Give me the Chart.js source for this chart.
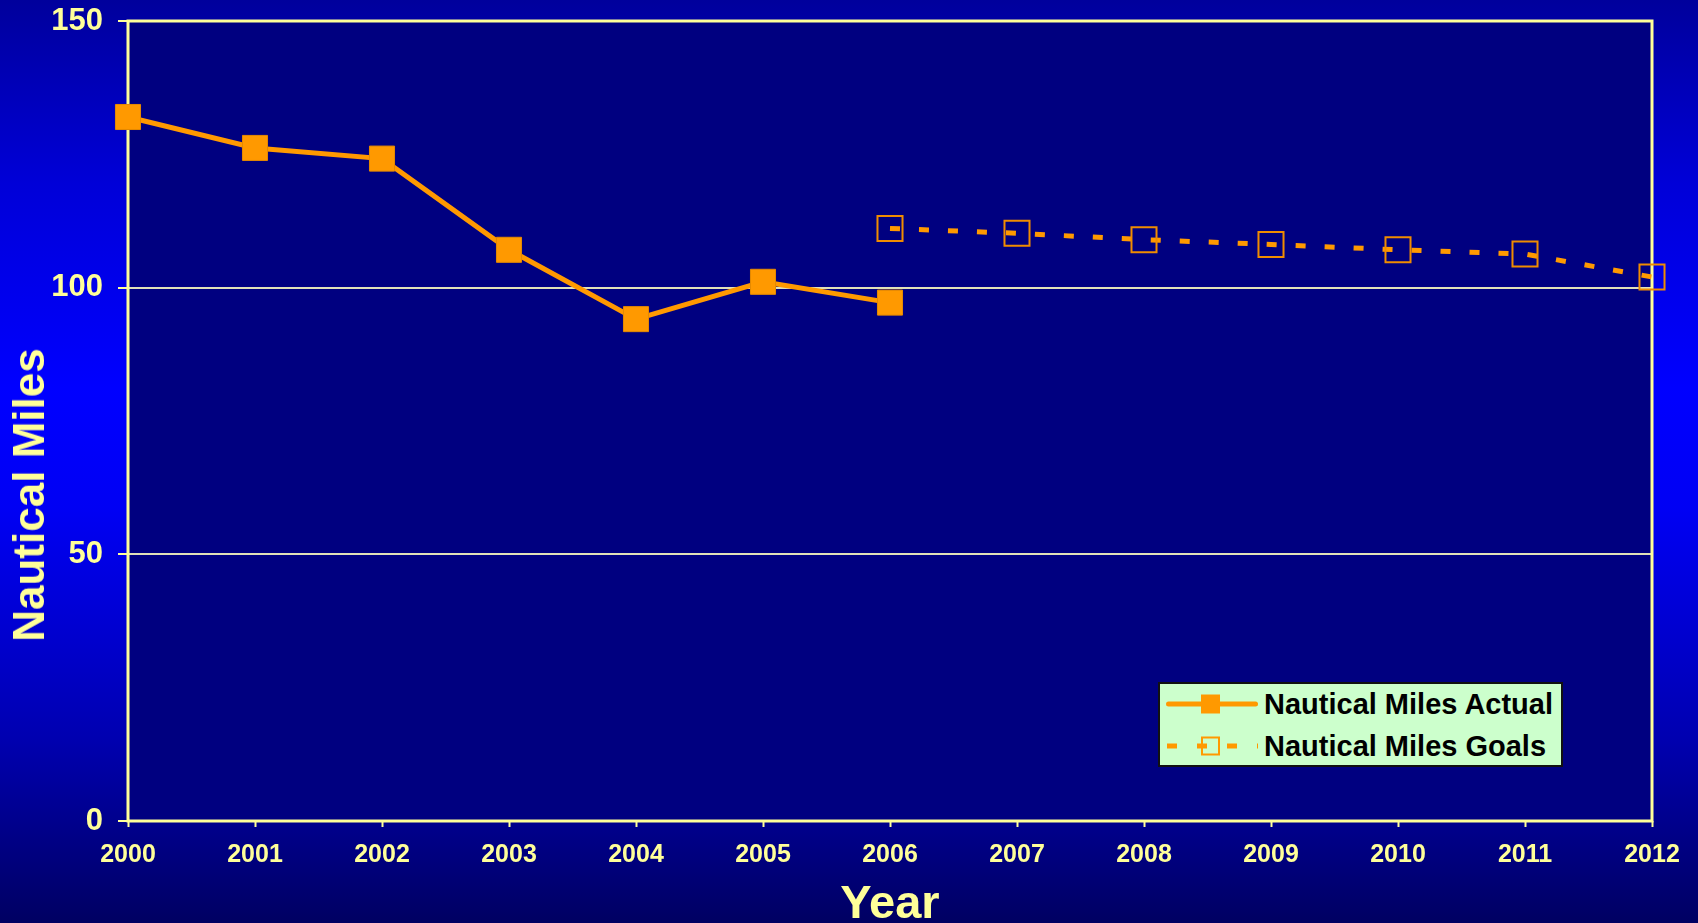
<!DOCTYPE html>
<html>
<head>
<meta charset="utf-8">
<script src="https://cdn.jsdelivr.net/npm/chart.js@4"></script>
<style>
  html, body {
    margin: 0;
    padding: 0;
    width: 1698px;
    height: 923px;
    overflow: hidden;
  }
  body {
    background: linear-gradient(to bottom, #00009c 0%, #0000d8 20%, #0000ff 42%, #0000f4 55%, #0000b0 80%, #000062 100%);
    font-family: "Liberation Sans", Arial, sans-serif;
    position: relative;
  }
  #wrap {
    position: absolute;
    left: 0;
    top: 0;
    width: 1698px;
    height: 923px;
  }
  .axis-title {
    position: absolute;
    color: #ffff99;
    font-weight: bold;
    white-space: nowrap;
  }
  #yTitle {
    left: 29px;
    top: 495px;
    font-size: 44px;
    line-height: 44px;
    transform: translate(-50%, -50%) rotate(-90deg);
  }
  #xTitle {
    left: 890px;
    top: 878px;
    font-size: 47px;
    line-height: 47px;
    transform: translateX(-50%);
  }
  #legend {
    position: absolute;
    left: 1158px;
    top: 682px;
    width: 401px;
    height: 81px;
    background: #ccffcc;
    border: 2px solid #111;
    padding: 0;
  }
  .leg-row {
    position: absolute;
    left: 6px;
    display: flex;
    align-items: center;
    height: 34px;
  }
  .leg-row span {
    margin-left: 6px;
    font-size: 29px;
    font-weight: bold;
    color: #000;
  }
</style>
</head>
<body>
<div id="wrap">
  <canvas id="chart" width="1698" height="923"></canvas>
</div>
<div class="axis-title" id="yTitle">Nautical Miles</div>
<div class="axis-title" id="xTitle">Year</div>
<div id="legend"></div>

<script>
const years = ['2000', '2001', '2002', '2003', '2004', '2005', '2006', '2007', '2008', '2009', '2010', '2011', '2012'];
const actualMiles = [132, 126.2, 124.2, 107.1, 94.1, 101.1, 97.2, null, null, null, null, null, null];
const goalMiles = [null, null, null, null, null, null, 111.1, 110.2, 109.0, 108.1, 107.1, 106.3, 102.0];
const yTicks = [0, 50, 100, 150];

const orange = '#ff9900';
const pale = '#ffff99';
const font = 'Liberation Sans, Arial, sans-serif';

// navy plot area + yellow frame, drawn under the lines
const plotFrame = {
    id: 'plotFrame',
    beforeDraw(chart) {
        const a = chart.chartArea;
        const ctx = chart.ctx;
        ctx.save();
        ctx.fillStyle = '#000080';
        ctx.fillRect(a.left, a.top, a.right - a.left, a.bottom - a.top);
        ctx.restore();
    },
    beforeDatasetsDraw(chart) {
        const a = chart.chartArea;
        const ctx = chart.ctx;
        ctx.save();
        ctx.strokeStyle = pale;
        ctx.lineWidth = 3;
        ctx.strokeRect(a.left, a.top, a.right - a.left, a.bottom - a.top);
        ctx.restore();
    }
};

const chart = new Chart(document.getElementById('chart'), {
    type: 'line',
    data: {
        labels: years,
        datasets: [
            {
                label: 'Nautical Miles Actual',
                data: actualMiles,
                borderColor: orange,
                backgroundColor: orange,
                borderWidth: 5,
                pointStyle: 'rect',
                pointRadius: 17.7,
                pointBackgroundColor: orange,
                pointBorderColor: '#e68a00',
                pointBorderWidth: 1,
                clip: false,
                spanGaps: false
            },
            {
                label: 'Nautical Miles Goals',
                data: goalMiles,
                borderColor: orange,
                borderWidth: 5,
                borderDash: [10, 19],
                pointStyle: 'rect',
                pointRadius: 17.7,
                pointBackgroundColor: 'rgba(0,0,0,0)',
                pointBorderColor: '#f08c00',
                pointBorderWidth: 2,
                clip: false
            }
        ]
    },
    options: {
        responsive: false,
        animation: false,
        layout: { padding: { top: 21, right: 46, left: 0, bottom: 0 } },
        plugins: {
            legend: { display: false },
            tooltip: { enabled: false }
        },
        scales: {
            x: {
                offset: false,
                afterFit(scale) {
                    scale.height = 102;
                    scale.paddingLeft = 0;
                    scale.paddingRight = 0;
                },
                grid: {
                    drawOnChartArea: false,
                    drawTicks: true,
                    tickLength: 6,
                    tickColor: pale,
                    tickWidth: 2
                },
                border: { display: false },
                ticks: {
                    color: pale,
                    padding: 13,
                    maxRotation: 0,
                    autoSkip: false,
                    font: { family: font, size: 25, weight: 'bold' }
                }
            },
            y: {
                min: 0,
                max: 150,
                afterFit(scale) {
                    scale.width = 128;
                    scale.paddingTop = 0;
                    scale.paddingBottom = 0;
                },
                afterBuildTicks(scale) { scale.ticks = yTicks.map(v => ({ value: v })); },
                grid: {
                    color: '#e0e0b8',
                    lineWidth: 2,
                    tickLength: 10,
                    tickColor: pale,
                    tickWidth: 2
                },
                border: { display: false },
                ticks: {
                    color: pale,
                    padding: 15,
                    font: { family: font, size: 31, weight: 'bold' }
                }
            }
        }
    },
    plugins: [plotFrame]
});

// legend box built from the datasets
const legend = document.getElementById('legend');
const symbols = [
    '<svg width="92" height="30"><line x1="2.5" y1="15" x2="89.5" y2="15" stroke="' + orange + '" stroke-width="5" stroke-linecap="round"/>' +
    '<rect x="35" y="5.5" width="19" height="19" fill="' + orange + '"/></svg>',
    '<svg width="92" height="30"><line x1="1" y1="15" x2="92" y2="15" stroke="' + orange + '" stroke-width="5" stroke-dasharray="10 20"/>' +
    '<rect x="36" y="6.5" width="17" height="17" fill="none" stroke="' + orange + '" stroke-width="2"/></svg>'
];
chart.data.datasets.forEach((ds, i) => {
    const row = document.createElement('div');
    row.className = 'leg-row';
    row.style.top = (i === 0 ? 3 : 45) + 'px';
    row.innerHTML = symbols[i] + '<span>' + ds.label + '</span>';
    legend.appendChild(row);
});
</script>
</body>
</html>
